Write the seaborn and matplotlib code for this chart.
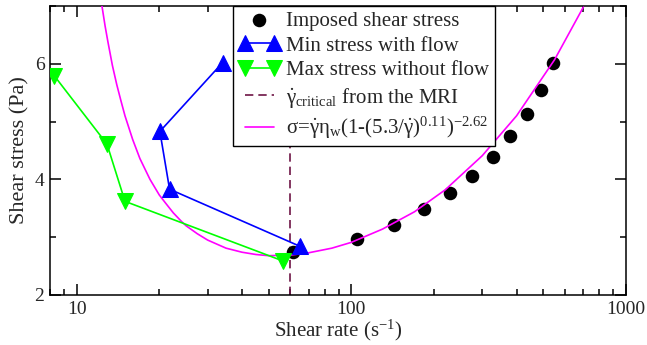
import numpy as np
import pandas as pd
import matplotlib
matplotlib.use('Agg')
import matplotlib.pyplot as plt
import matplotlib.ticker as ticker
import seaborn as sns

# imposed shear stress (black dots)
imp_rate = [61.5, 105, 143, 184, 229, 276, 329, 380, 435, 492, 544]
imp_stress = [2.75, 2.97, 3.21, 3.48, 3.76, 4.06, 4.39, 4.75, 5.13, 5.55, 6.01]

# min stress with flow (blue up triangles), in plotted order
min_rate = [34.0, 20.1, 21.8, 65.2]
min_stress = [6.02, 4.83, 3.83, 2.84]

# max stress without flow (green down triangles)
max_rate = [8.3, 12.9, 15.0, 56.3]
max_stress = [5.79, 4.61, 3.62, 2.59]

gamma_crit = 60

# fitted curve
fit_rate = [12.3, 12.7, 13, 13.5, 14, 14.5, 15, 16, 17, 18.5, 20, 21, 22.5, 24,
            25, 27.5, 30, 35, 40, 45, 50, 60, 70, 85, 100, 130, 170, 220, 300,
            400, 550, 700]
fit_stress = [7.07, 6.65, 6.38, 5.97, 5.64, 5.36, 5.10, 4.69, 4.36, 4.00, 3.73,
              3.60, 3.42, 3.28, 3.20, 3.06, 2.95, 2.81, 2.74, 2.70, 2.68, 2.69,
              2.73, 2.81, 2.91, 3.14, 3.44, 3.82, 4.41, 5.10, 6.07, 6.98]

sns.set_style('ticks')
plt.rcParams['font.family'] = ['Liberation Serif', 'DejaVu Serif']
plt.rcParams['mathtext.fontset'] = 'stix'
plt.rcParams['mathtext.default'] = 'regular'

fig = plt.figure(figsize=(6.47, 3.45), dpi=100)
ax = fig.add_axes([0.0773, 0.145, 0.89, 0.8376])

sns.scatterplot(x=imp_rate, y=imp_stress, ax=ax, color='black', s=95,
                edgecolor='black', linewidth=0, zorder=2,
                label='Imposed shear stress')
sns.lineplot(x=min_rate, y=min_stress, ax=ax, sort=False, color='#0000ff',
             lw=1.2, marker='^', ms=11, mec='#0000ff', zorder=4,
             label='Min stress with flow')
sns.lineplot(x=max_rate, y=max_stress, ax=ax, sort=False, color='#00ff00',
             lw=1.2, marker='v', ms=11, mec='#00ff00', zorder=4,
             label='Max stress without flow')
ax.axvline(gamma_crit, color='#6e1446', lw=1.2, ls=(0, (5, 3)), zorder=1,
           label=r'$\dot{\gamma}_{critical}$ from the MRI')
sns.lineplot(x=fit_rate, y=fit_stress, ax=ax, sort=False, color='#ff00ff',
             lw=1.2, zorder=3,
             label=r'$\sigma$=$\dot{\gamma}\eta_{w}$(1-(5.3/$\dot{\gamma}$$)^{0.11})^{-2.62}$')

ax.set_xscale('log')
ax.set_xlim(8, 1000)
ax.set_ylim(2, 7)
ax.xaxis.set_major_locator(ticker.LogLocator(base=10))
ax.xaxis.set_minor_locator(ticker.LogLocator(base=10, subs=np.arange(2, 10)))
ax.xaxis.set_major_formatter(ticker.FuncFormatter(lambda v, p: f'{v:g}'))
ax.xaxis.set_minor_formatter(ticker.NullFormatter())
ax.yaxis.set_major_locator(ticker.MultipleLocator(2))
ax.yaxis.set_minor_locator(ticker.MultipleLocator(1))

ax.tick_params(which='both', direction='in', top=True, right=True,
               labelsize=14, width=1.1, color='black')
ax.tick_params(which='major', length=8, pad=4)
ax.tick_params(which='minor', length=4)
for sp in ax.spines.values():
    sp.set_linewidth(1.1)
    sp.set_color('black')

ax.set_xlabel('Shear rate (s$^{-1}$)', fontsize=15, labelpad=0)
ax.set_ylabel('Shear stress (Pa)', fontsize=16, labelpad=4)

leg = ax.legend(loc='upper left', bbox_to_anchor=(0.318, 1.0), borderaxespad=0,
                fontsize=15, numpoints=2, scatterpoints=1, handlelength=2.0,
                handletextpad=0.3, labelspacing=0.25, borderpad=0.25,
                fancybox=False, framealpha=1, edgecolor='black')
leg.get_frame().set_linewidth(1.0)

plt.savefig('out.png', dpi=100)
